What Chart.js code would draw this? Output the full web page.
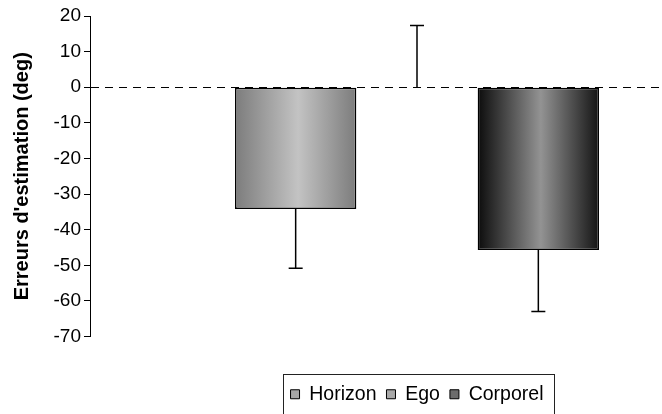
<!DOCTYPE html>
<html>
<head>
<meta charset="utf-8">
<script src="https://cdn.jsdelivr.net/npm/chart.js@4"></script>
<style>
  html, body { margin: 0; padding: 0; background: #fff; }
  #wrap { width: 662px; height: 414px; overflow: hidden; }
  #chart { display: block; }
</style>
</head>
<body>
<div id="wrap"><canvas id="chart" width="834" height="414"></canvas></div>
<script>
const seriesNames = ['Horizon', 'Ego', 'Corporel'];
const means       = [-34.2, 0, -45.7];
const errors      = [16.6, 17.3, 17.3];
const yTicks      = [20, 10, 0, -10, -20, -30, -40, -50, -60, -70];
const yTitle      = "Erreurs d'estimation (deg)";

// edge / centre / edge of the horizontal shading in each bar
const shades = [
  ['#7c7c7c', '#c3c3c3', '#7c7c7c'],
  ['#888888', '#bebebe', '#888888'],
  ['#0c0c0c', '#939393', '#141414'],
];
const legendFill = ['#a6a6a6', '#a9a9a9', '#6c6c6c'];

Chart.defaults.font.family = "'Liberation Sans', Arial, sans-serif";
Chart.defaults.font.size = 19;
Chart.defaults.color = '#000';

const barShade = {
  id: 'barShade',
  beforeDatasetsDraw(chart) {
    const ctx = chart.ctx;
    chart.data.datasets.forEach((ds, i) => {
      chart.getDatasetMeta(i).data.forEach(bar => {
        const l = bar.x - bar.width / 2;
        const r = bar.x + bar.width / 2;
        const g = ctx.createLinearGradient(l, 0, r, 0);
        g.addColorStop(0, shades[i][0]);
        g.addColorStop(0.52, shades[i][1]);
        g.addColorStop(1, shades[i][2]);
        bar.options.backgroundColor = g;
      });
    });
  }
};

const errorBars = {
  id: 'errorBars',
  afterDatasetsDraw(chart) {
    const { ctx, scales: { y } } = chart;
    ctx.save();
    ctx.strokeStyle = '#000';
    ctx.lineWidth = 1.5;
    means.forEach((m, i) => {
      const bar = chart.getDatasetMeta(i).data[0];
      const end = m < 0 ? m - errors[i] : m + errors[i];
      const y0 = y.getPixelForValue(m);
      const y1 = y.getPixelForValue(end);
      ctx.beginPath();
      ctx.moveTo(bar.x, y0);
      ctx.lineTo(bar.x, y1);
      ctx.moveTo(bar.x - 7, y1);
      ctx.lineTo(bar.x + 7, y1);
      ctx.stroke();
    });
    ctx.restore();
  }
};

const legendFrame = {
  id: 'legendFrame',
  afterDraw(chart) {
    const lg = chart.legend;
    if (!lg || !lg.legendHitBoxes || !lg.legendHitBoxes.length) return;
    const boxes = lg.legendHitBoxes;
    const l = Math.min(...boxes.map(b => b.left)) - 8;
    const r = Math.max(...boxes.map(b => b.left + b.width)) + 10;
    const t = lg.top - 1;
    const ctx = chart.ctx;
    ctx.save();
    ctx.strokeStyle = '#222';
    ctx.lineWidth = 1;
    ctx.strokeRect(Math.round(l) + 0.5, Math.round(t) + 0.5, Math.round(r - l), 60);
    ctx.restore();
  }
};

new Chart(document.getElementById('chart'), {
  type: 'bar',
  data: {
    labels: [''],
    datasets: seriesNames.map((name, i) => ({
      label: name,
      data: [means[i]],
      backgroundColor: () => shades[i][1],
      borderColor: '#000',
      borderWidth: c => (c.raw === 0 ? 0 : 1.5),
      borderSkipped: false,
      categoryPercentage: 0.5566,
      barPercentage: 1,
    })),
  },
  options: {
    responsive: false,
    animation: false,
    layout: { padding: { left: 0, right: 0, top: 16, bottom: 0 } },
    plugins: {
      tooltip: { enabled: false },
      legend: {
        position: 'bottom',
        labels: {
          boxWidth: 9,
          boxHeight: 9,
          padding: 10,
          color: '#000',
          font: { size: 19.5 },
          generateLabels: () => seriesNames.map((n, i) => ({
            text: n,
            fillStyle: legendFill[i],
            strokeStyle: '#000',
            lineWidth: 1,
            hidden: false,
            datasetIndex: i,
          })),
        },
      },
    },
    scales: {
      x: {
        grid: { display: false },
        border: { display: false },
        ticks: { display: false },
        afterFit: s => { s.height = 38; },
      },
      y: {
        min: Math.min(...yTicks),
        max: Math.max(...yTicks),
        ticks: { stepSize: 10, color: '#000', font: { size: 19 }, padding: 3 },
        grid: {
          color: c => (c.tick && c.tick.value === 0 ? '#000' : 'rgba(0,0,0,0)'),
          lineWidth: 1,
          tickColor: '#000',
          tickLength: 6,
        },
        border: { color: '#000', width: 1, dash: [8, 6] },
        title: {
          display: true,
          text: yTitle,
          color: '#000',
          font: { size: 20, weight: 'bold' },
          padding: { top: 10, bottom: 0 },
        },
        afterFit: s => { s.width = 90; },
      },
      // empty right-hand axis: keeps the plot centred on the legend
      yRight: {
        position: 'right',
        display: true,
        grid: { display: false },
        border: { display: false },
        ticks: { display: false },
        afterFit: s => { s.width = 90; },
      },
    },
  },
  plugins: [barShade, errorBars, legendFrame],
});
</script>
</body>
</html>
